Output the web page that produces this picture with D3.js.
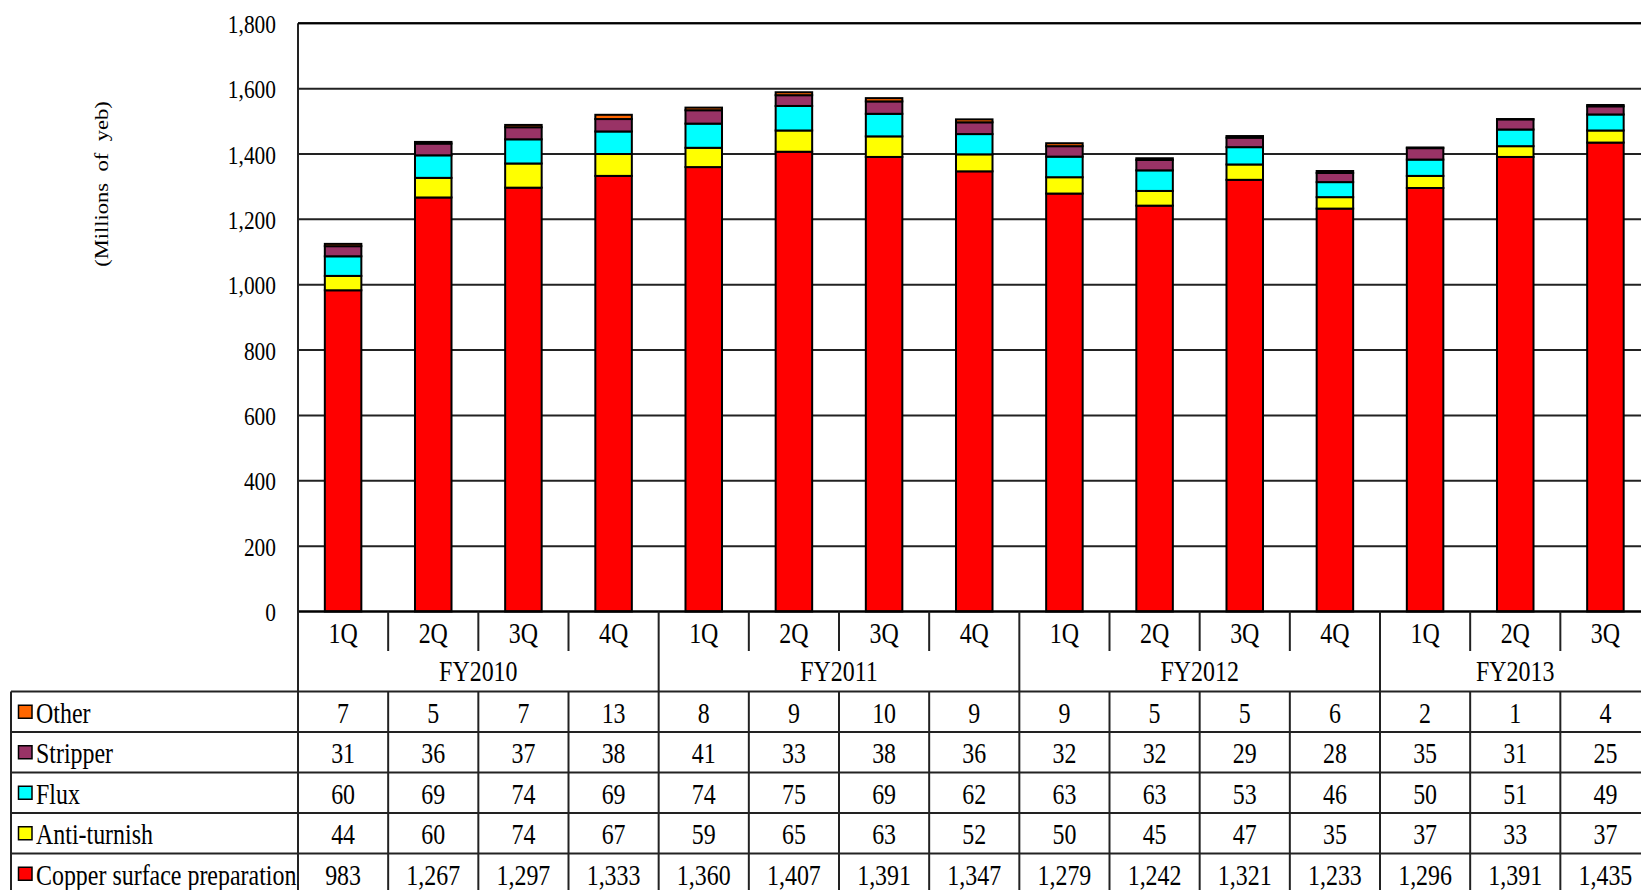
<!DOCTYPE html>
<html>
<head>
<meta charset="utf-8">
<script src="https://cdn.jsdelivr.net/npm/d3@7"></script>
<style>
  html, body { margin: 0; padding: 0; background: #fff; overflow: hidden; }
  svg { display: block; }
  text { font-family: "Liberation Serif", "Times New Roman", serif; fill: #000; }
</style>
</head>
<body>
<svg id="chart" width="1641" height="890"></svg>
<script>
// Quarterly sales by product line (millions of yen)
const quarters = ["1Q","2Q","3Q","4Q","1Q","2Q","3Q","4Q","1Q","2Q","3Q","4Q","1Q","2Q","3Q"];
const fiscalYears = ["FY2010","FY2011","FY2012","FY2013"];
const yearSpans = [4, 4, 4, 3];

const copper     = [983, 1267, 1297, 1333, 1360, 1407, 1391, 1347, 1279, 1242, 1321, 1233, 1296, 1391, 1435];
const antiTurnish = [44, 60, 74, 67, 59, 65, 63, 52, 50, 45, 47, 35, 37, 33, 37];
const flux       = [60, 69, 74, 69, 74, 75, 69, 62, 63, 63, 53, 46, 50, 51, 49];
const stripper   = [31, 36, 37, 38, 41, 33, 38, 36, 32, 32, 29, 28, 35, 31, 25];
const other      = [7, 5, 7, 13, 8, 9, 10, 9, 9, 5, 5, 6, 2, 1, 4];

const seriesNames  = ["Copper surface preparation", "Anti-turnish", "Flux", "Stripper", "Other"];
const seriesValues = [copper, antiTurnish, flux, stripper, other];
const seriesColors = ["#ff0000", "#ffff00", "#00ffff", "#993366", "#ff6600"];

const yTicks = [0, 200, 400, 600, 800, 1000, 1200, 1400, 1600, 1800];
const yTitle = "(Millions of yeb)";

// layout
const plotLeft = 298, plotRight = 1650.5, plotTop = 23.3, plotBottom = 611.5;
const qRowBottom = 651, tableTop = 691.5, rowH = 40.5, tableLeft = 11;
const SX = 0.84;            // horizontal text compression
const lineCol = "#222";

const svg = d3.select("#chart");
const ids = quarters.map((q, i) => i);

const x = d3.scaleBand().domain(ids).range([plotLeft, plotRight]).paddingInner(0.595).paddingOuter(0.2975);
const xCol = d3.scaleBand().domain(ids).range([plotLeft, plotRight]).padding(0);
const y = d3.scaleLinear().domain([0, 1800]).range([plotBottom, plotTop]);

function label(g, px, py, s, anchor, size) {
  return g.append("text")
    .attr("transform", `translate(${px},${py}) scale(${SX},1)`)
    .attr("text-anchor", anchor)
    .attr("dominant-baseline", "central")
    .style("font-size", size + "px")
    .text(s);
}

// gridlines
const grid = svg.append("g");
grid.selectAll("line").data(yTicks.filter(d => d > 0)).join("line")
  .attr("x1", plotLeft).attr("x2", plotRight)
  .attr("y1", d => y(d)).attr("y2", d => y(d))
  .attr("stroke", lineCol).attr("stroke-width", 2);

// y axis tick labels
const yAxis = d3.axisLeft(y).tickValues(yTicks).tickSize(0).tickFormat(d3.format(","));
const yg = svg.append("g").attr("transform", `translate(${plotLeft},0)`).call(yAxis);
yg.select(".domain").remove();
yg.selectAll(".tick text").remove();
yg.selectAll(".tick").each(function(d) {
  label(d3.select(this), -22, 0.5, d3.format(",")(d), "end", 25.5);
});

// y axis title
svg.append("text")
  .attr("transform", `translate(101,184) scale(${SX},1) rotate(-90)`)
  .attr("text-anchor", "middle")
  .attr("dominant-baseline", "central")
  .style("font-size", "22.5px")
  .style("word-spacing", "6px")
  .text(yTitle);

// stacked bars
const rows = ids.map(i => {
  const r = { i };
  seriesNames.forEach((n, k) => r[n] = seriesValues[k][i]);
  return r;
});
const stack = d3.stack().keys(seriesNames)(rows);
svg.append("g").selectAll("g").data(stack).join("g")
  .attr("fill", (d, k) => seriesColors[k])
  .selectAll("rect").data(d => d).join("rect")
  .attr("x", d => x(d.data.i))
  .attr("width", x.bandwidth())
  .attr("y", d => y(d[1]))
  .attr("height", d => y(d[0]) - y(d[1]))
  .attr("stroke", "#000").attr("stroke-width", 2);

// baseline
svg.append("line").attr("x1", plotLeft).attr("x2", plotRight).attr("y1", plotBottom).attr("y2", plotBottom)
  .attr("stroke", "#000").attr("stroke-width", 2.5);

// category axis: quarter labels and fiscal year labels
const catG = svg.append("g");
ids.forEach(i => {
  label(catG, xCol(i) + xCol.bandwidth() / 2, 634, quarters[i], "middle", 28.5);
});
let start = 0;
const yearBounds = [0];
fiscalYears.forEach((fy, j) => {
  const a = xCol(start), b = start + yearSpans[j] < ids.length ? xCol(start + yearSpans[j]) : plotRight;
  label(catG, (a + b) / 2, 672, fy, "middle", 28.5);
  start += yearSpans[j];
  yearBounds.push(start);
});

// vertical separators
const lines = svg.append("g").attr("stroke", lineCol).attr("stroke-width", 2);
const tableBottom = tableTop + rowH * seriesNames.length;
ids.forEach(i => {
  const xx = xCol(i);
  if (yearBounds.includes(i)) {
    lines.append("line").attr("x1", xx).attr("x2", xx).attr("y1", i === 0 ? plotTop : plotBottom).attr("y2", tableBottom);
  } else {
    lines.append("line").attr("x1", xx).attr("x2", xx).attr("y1", plotBottom).attr("y2", qRowBottom);
    lines.append("line").attr("x1", xx).attr("x2", xx).attr("y1", tableTop).attr("y2", tableBottom);
  }
});
// plot frame top and right
lines.append("line").attr("x1", plotLeft).attr("x2", plotRight).attr("y1", plotTop).attr("y2", plotTop).attr("stroke", "#000");
lines.append("line").attr("x1", plotRight).attr("x2", plotRight).attr("y1", plotTop).attr("y2", tableBottom);
// table left border
lines.append("line").attr("x1", tableLeft).attr("x2", tableLeft).attr("y1", tableTop).attr("y2", tableBottom);
// table horizontal rules
for (let r = 0; r <= seriesNames.length; r++) {
  const yy = tableTop + r * rowH;
  lines.append("line").attr("x1", tableLeft).attr("x2", plotRight).attr("y1", yy).attr("y2", yy);
}

// data table rows, top row is the top of the stack
const fmt = d3.format(",");
const tableOrder = [4, 3, 2, 1, 0];
const tbl = svg.append("g");
tableOrder.forEach((k, r) => {
  const mid = tableTop + r * rowH + rowH / 2;
  tbl.append("rect")
    .attr("x", 18.5).attr("y", mid - 6.5).attr("width", 13.5).attr("height", 13)
    .attr("fill", seriesColors[k]).attr("stroke", "#000").attr("stroke-width", 1.5);
  label(tbl, 36, mid + 2, seriesNames[k], "start", 28.5);
  ids.forEach(i => {
    label(tbl, xCol(i) + xCol.bandwidth() / 2, mid + 2, fmt(seriesValues[k][i]), "middle", 28.5);
  });
});
</script>
</body>
</html>
